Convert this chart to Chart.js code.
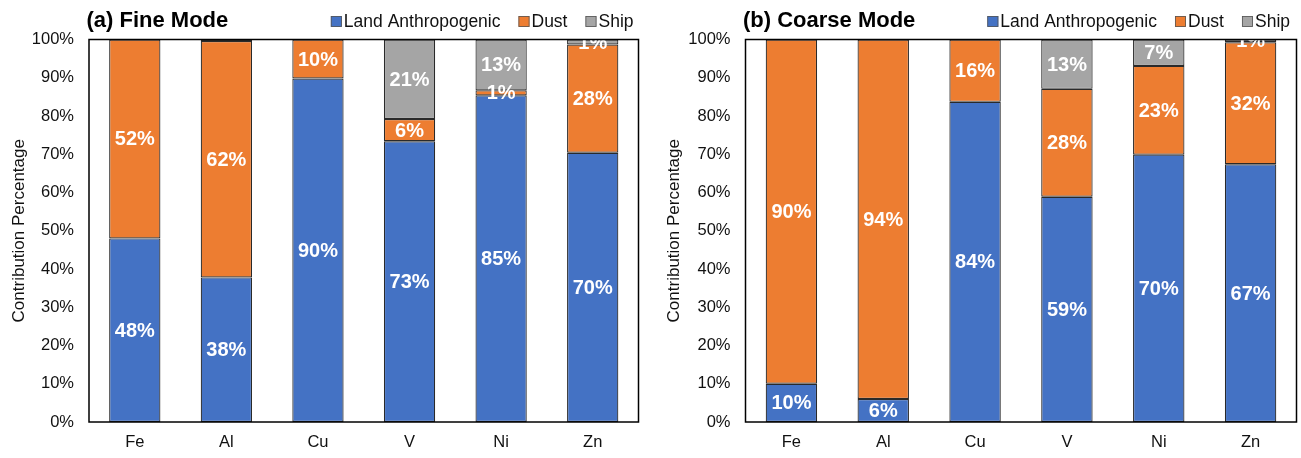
<!DOCTYPE html>
<html>
<head>
<meta charset="utf-8">
<script src="https://cdn.jsdelivr.net/npm/chart.js@4.4.1/dist/chart.umd.min.js"></script>
<style>
  html, body { margin: 0; padding: 0; background: #ffffff; }
  #wrap { position: relative; width: 1301px; height: 458px; overflow: hidden; }
  canvas { position: absolute; top: 0; }
  #fine { left: 0; }
  #coarse { left: 650px; }
</style>
</head>
<body>
<div id="wrap">
  <canvas id="fine" width="650" height="458"></canvas>
  <canvas id="coarse" width="651" height="458"></canvas>
</div>
<script>
// Elements and source categories
const elements = ['Fe', 'Al', 'Cu', 'V', 'Ni', 'Zn'];
const sources = ['Land Anthropogenic', 'Dust', 'Ship'];
const sourceColors = ['#4472C4', '#ED7D31', '#A5A5A5'];

// Fine mode contributions (%)
const fineLand = [48, 37.8, 89.8, 73.4, 85.4, 70.4];
const fineDust = [52, 61.8, 10.2, 5.8, 1.3, 28.3];
const fineShip = [0, 0.4, 0, 20.8, 13.3, 1.3];

// Coarse mode contributions (%)
const coarseLand = [10, 6, 83.7, 58.9, 69.9, 67.4];
const coarseDust = [90, 94, 16.3, 28.2, 23.2, 31.9];
const coarseShip = [0, 0, 0, 12.9, 6.9, 0.7];

// Y axis ticks (%)
const yTicks = [0, 10, 20, 30, 40, 50, 60, 70, 80, 90, 100];

const FONT = '"Liberation Sans", Arial, Helvetica, sans-serif';
const TEXT = '#111111';

// Title on the left and legend on the right, sharing one row above the plot
const headerPlugin = {
  id: 'header',
  afterDraw(chart, args, opts) {
    const { ctx, chartArea: a } = chart;
    ctx.save();
    ctx.textBaseline = 'alphabetic';
    ctx.fillStyle = '#000';
    ctx.font = 'bold 22px ' + FONT;
    ctx.textAlign = 'left';
    ctx.fillText(opts.title, a.left - 2.5, 26.5);

    ctx.font = '17.5px ' + FONT;
    const box = 11, gapText = 2, gapItem = 18;
    const items = chart.data.datasets.map(d => ({ label: d.label, color: d.backgroundColor }));
    let total = 0;
    items.forEach((it, i) => {
      it.w = ctx.measureText(it.label).width;
      total += box + gapText + it.w + (i < items.length - 1 ? gapItem : 0);
    });
    let x = a.right - opts.legendInset - total;
    items.forEach(it => {
      ctx.fillStyle = it.color;
      ctx.fillRect(x, 16, box, box);
      ctx.strokeStyle = '#555';
      ctx.lineWidth = 0.8;
      ctx.strokeRect(x + 0.4, 16.4, box - 0.8, box - 0.8);
      x += box + gapText;
      ctx.fillStyle = TEXT;
      ctx.fillText(it.label, x, 26.5);
      x += it.w + gapItem;
    });
    ctx.restore();
  }
};

// Percentage labels centred in every visible segment
const segmentLabels = {
  id: 'segmentLabels',
  afterDatasetsDraw(chart) {
    const { ctx, chartArea: a } = chart;
    ctx.save();
    ctx.beginPath();
    ctx.rect(a.left, a.top, a.right - a.left, a.bottom - a.top);
    ctx.clip();
    ctx.font = 'bold 20px ' + FONT;
    ctx.fillStyle = '#ffffff';
    ctx.textAlign = 'center';
    ctx.textBaseline = 'middle';
    chart.data.datasets.forEach((ds, di) => {
      const meta = chart.getDatasetMeta(di);
      meta.data.forEach((bar, i) => {
        const v = ds.data[i];
        if (v < 0.5) return;
        const { x, y, base } = bar.getProps(['x', 'y', 'base'], true);
        ctx.fillText(Math.round(v) + '%', x, (y + base) / 2 + 1);
      });
    });
    ctx.restore();
  }
};

// Plot-area frame
const framePlugin = {
  id: 'frame',
  afterDraw(chart) {
    const { ctx, chartArea: a } = chart;
    ctx.save();
    ctx.strokeStyle = '#000';
    ctx.lineWidth = 1.5;
    ctx.strokeRect(a.left, a.top, a.right - a.left, a.bottom - a.top);
    ctx.restore();
  }
};

function makeChart(id, title, land, dust, ship, yWidth, rightPad, titlePad, legendInset) {
  const series = [land, dust, ship];
  return new Chart(document.getElementById(id), {
    type: 'bar',
    data: {
      labels: elements,
      datasets: sources.map((name, k) => ({
        label: name,
        data: series[k],
        backgroundColor: sourceColors[k],
        borderColor: '#2a2a2a',
        borderWidth: 1.2,
        borderSkipped: false,
        categoryPercentage: 1,
        barPercentage: 0.56
      }))
    },
    options: {
      responsive: false,
      animation: false,
      devicePixelRatio: 1,
      layout: { padding: { top: 39.5, right: rightPad, bottom: 0, left: 0 } },
      plugins: {
        legend: { display: false },
        tooltip: { enabled: false },
        header: { title: title, legendInset: legendInset }
      },
      scales: {
        x: {
          stacked: true,
          grid: { display: false, drawTicks: false },
          border: { display: false },
          ticks: { color: TEXT, font: { family: FONT, size: 16.5 }, padding: 11 },
          afterFit(s) { s.height = 36; }
        },
        y: {
          stacked: true,
          min: 0,
          max: 100,
          grid: { display: false, drawTicks: false },
          border: { display: false },
          afterBuildTicks(s) { s.ticks = yTicks.map(v => ({ value: v })); },
          ticks: {
            color: TEXT,
            font: { family: FONT, size: 16.5 },
            padding: 15,
            callback: v => v + '%'
          },
          title: {
            display: true,
            text: 'Contribution Percentage',
            color: TEXT,
            font: { family: FONT, size: 17 },
            padding: { top: titlePad, bottom: 0 }
          },
          afterFit(s) { s.width = yWidth; }
        }
      }
    },
    plugins: [segmentLabels, framePlugin, headerPlugin]
  });
}

makeChart('fine', '(a) Fine Mode', fineLand, fineDust, fineShip, 89, 11.5, 8.8, 5);
makeChart('coarse', '(b) Coarse Mode', coarseLand, coarseDust, coarseShip, 95.5, 4.5, 13.8, 6.5);
</script>
</body>
</html>
